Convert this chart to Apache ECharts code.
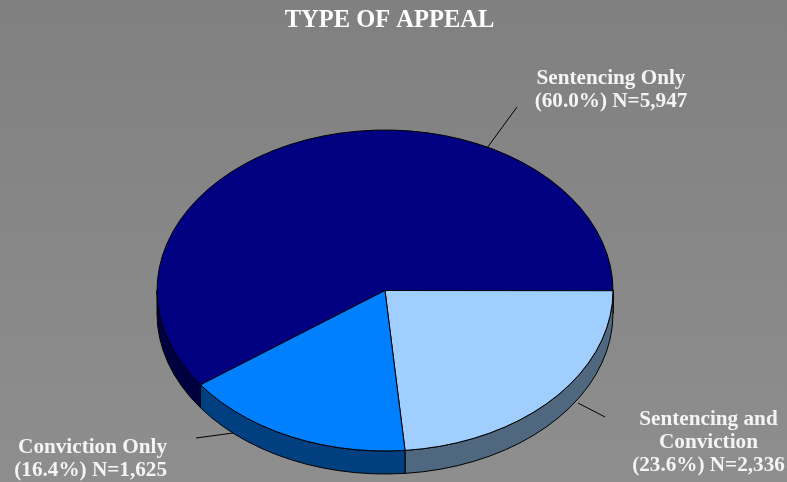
<!DOCTYPE html>
<html>
<head>
<meta charset="utf-8">
<style>html,body{margin:0;padding:0;background:#868686}#c{width:787px;height:482px}</style>
<script src="https://cdn.jsdelivr.net/npm/echarts@6/dist/echarts.min.js"></script>
</head>
<body>
<div id="c"></div>
<script>
var titleText = 'TYPE OF APPEAL';
var categories = ['Sentencing Only', 'Sentencing and Conviction', 'Conviction Only'];
var values = [5947, 2336, 1625];
var labelLines = [
  ['Sentencing Only', '(60.0%) N=5,947'],
  ['Sentencing and', 'Conviction', '(23.6%) N=2,336'],
  ['Conviction Only', '(16.4%) N=1,625']
];
var topColors = ['#000080', '#A0CFFF', '#0080FF'];
var sideColors = ['#000040', '#50687F', '#004080'];

var CX = 385, CY = 290.5, RX = 228, RY = 160.5, DEPTH = 23, STEP = Math.PI / 40;
var START = 144 * Math.PI / 180;
var labelPlace = [
  {x: 611, y: 79, align: 'center'},
  {x: 708.5, y: 420, align: 'center'},
  {x: 167, y: 448, align: 'right'}
];
var leaders = [
  [[487, 148], [517, 107]],
  [[578, 403], [605, 417]],
  [[196, 438], [233, 433]]
];

var total = values.reduce(function (a, b) { return a + b; }, 0);
var chart = echarts.init(document.getElementById('c'), null, {renderer: 'canvas'});

function pt(a, dy) { return [CX + RX * Math.cos(a), CY + RY * Math.sin(a) + (dy || 0)]; }
function arc(a0, a1, dy) {
  var pts = [], n = Math.max(1, Math.ceil((a1 - a0) / STEP - 1e-6));
  for (var i = 0; i <= n; i++) pts.push(pt(a0 + (a1 - a0) * i / n, dy));
  return pts;
}

function renderItem(params, api) {
  var idx = params.dataIndex, before = 0;
  for (var i = 0; i < idx; i++) before += values[i];
  var a0 = START + before / total * 2 * Math.PI;
  var a1 = a0 + api.value(0) / total * 2 * Math.PI;
  var children = [];
  var style = function (c) { return {fill: c, stroke: '#000', lineWidth: 1, lineJoin: 'round'}; };

  // Side wall: only the part facing the viewer (screen angle 0..180 deg, mod 360)
  var k = Math.floor(a0 / (2 * Math.PI));
  for (var t = k; t <= k + 1; t++) {
    var s0 = Math.max(a0, t * 2 * Math.PI), s1 = Math.min(a1, t * 2 * Math.PI + Math.PI);
    if (s1 > s0) {
      var wall = arc(s0, s1, 0).concat(arc(s0, s1, DEPTH).reverse());
      children.push({type: 'polygon', z2: 1, shape: {points: wall}, style: style(sideColors[idx])});
    }
  }
  // Top face
  children.push({type: 'polygon', z2: 2,
    shape: {points: [[CX, CY]].concat(arc(a0, a1, 0))}, style: style(topColors[idx])});
  // Leader
  children.push({type: 'polyline', z2: 3, shape: {points: leaders[idx]},
    style: {fill: null, stroke: '#000', lineWidth: 1}});
  // Label
  var lp = labelPlace[idx];
  labelLines[idx].forEach(function (line, j) {
    children.push({type: 'text', z2: 4, style: {
      text: line, x: lp.x, y: lp.y + j * 23, align: lp.align, verticalAlign: 'middle',
      fill: '#F4F4F4', font: 'bold 21.2px "Liberation Serif"'
    }});
  });
  return {type: 'group', children: children};
}

chart.setOption({
  animation: false,
  backgroundColor: {type: 'linear', x: 0, y: 0, x2: 0, y2: 1,
    colorStops: [{offset: 0, color: '#808080'}, {offset: 1, color: '#8E8E8E'}]},
  title: {text: titleText, left: 384.5, top: 3, textAlign: 'center',
    textStyle: {color: '#fff', fontFamily: 'Liberation Serif', fontWeight: 'bold', fontSize: 24.5}},
  series: [{
    type: 'custom',
    coordinateSystem: 'none',
    silent: true,
    renderItem: renderItem,
    data: values.map(function (v, i) { return {name: categories[i], value: [v]}; })
  }]
});
</script>
</body>
</html>
